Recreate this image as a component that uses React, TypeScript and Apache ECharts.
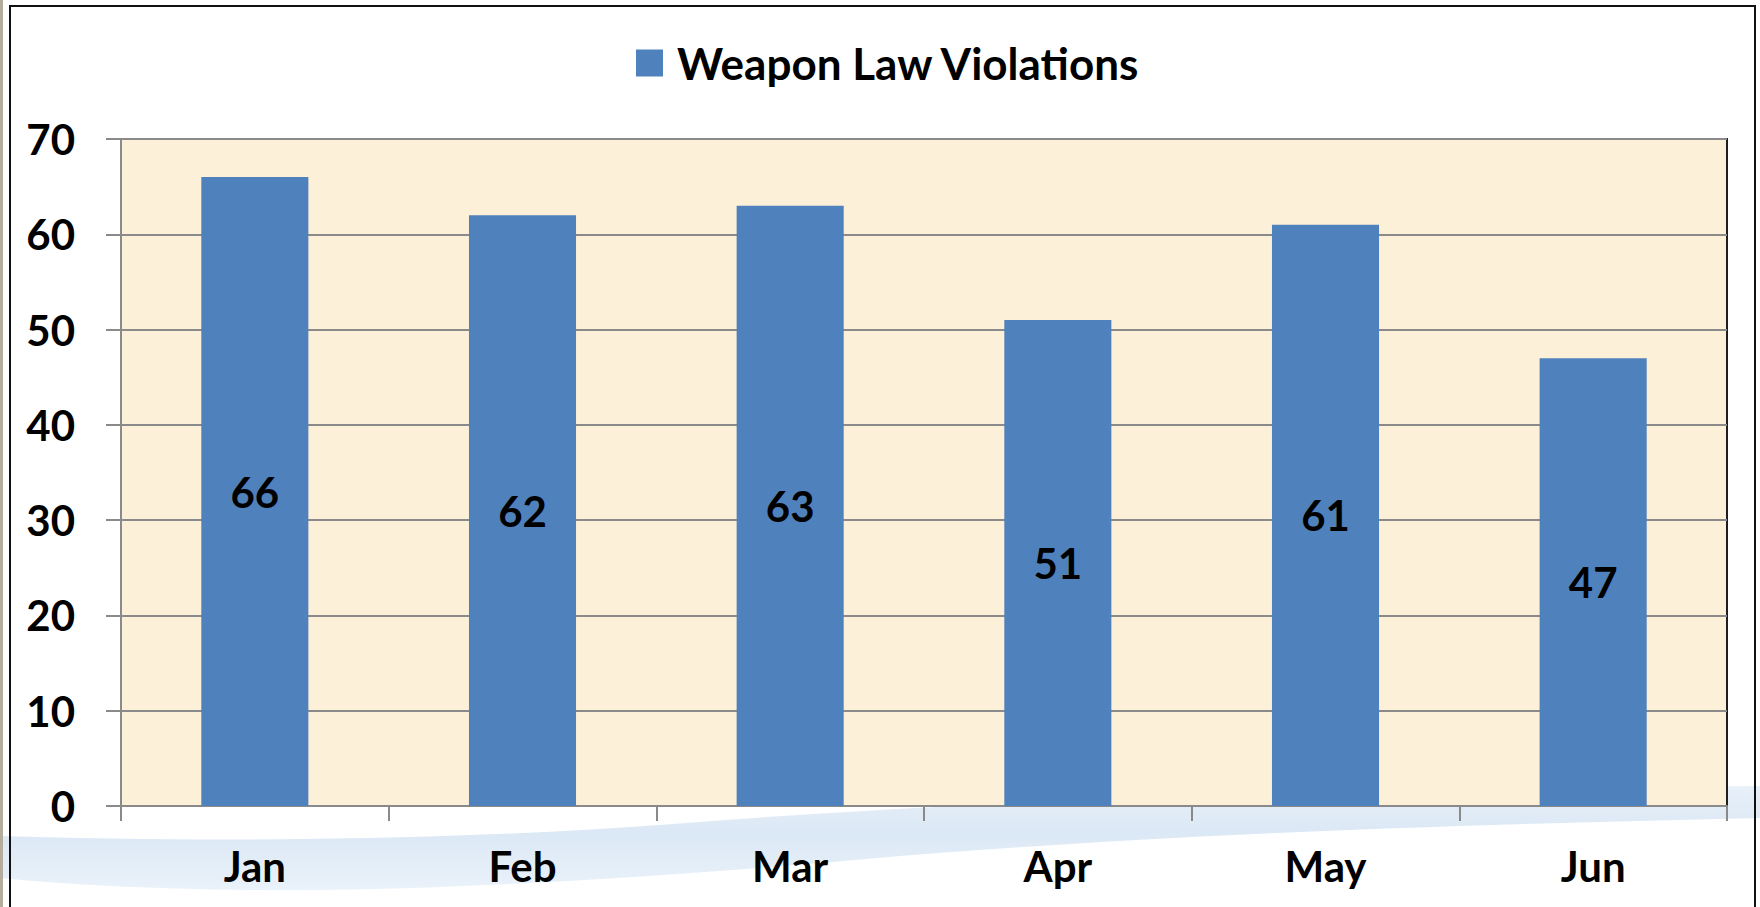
import React, { useEffect, useRef } from "react";
import * as echarts from "echarts";

const categories = ["Jan", "Feb", "Mar", "Apr", "May", "Jun"];
const violations = [66, 62, 63, 51, 61, 47];
const seriesName = "Weapon Law Violations";
const yTicks = { min: 0, max: 70, interval: 10 };

const FONT = "Lato, 'Open Sans', 'Noto Sans', sans-serif";

const swooshPath =
  "M0,836 C200,842 450,842 700,822 C950,802 1300,790 1760,786 L1760,818 C1400,826 1150,836 900,856 C700,874 450,892 250,890 C150,889 60,884 0,878 Z";

echarts.graphic.registerShape("swoosh", echarts.graphic.extendPath(swooshPath, {}) as any);

export default function App() {
  const ref = useRef<HTMLDivElement>(null);
  useEffect(() => {
    if (!ref.current) return;
    const chart = echarts.init(ref.current, undefined, { renderer: "svg" });
    chart.setOption({
      animation: false,
      backgroundColor: "#ffffff",
      graphic: [
        {
          type: "swoosh",
          x: 0,
          y: 0,
          scaleX: 1,
          scaleY: 1,
          z: -5,
          silent: true,
          style: {
            fill: new echarts.graphic.LinearGradient(0, 0, 0, 1, [
              { offset: 0, color: "#e8f0f9" },
              { offset: 0.45, color: "#dbe8f5" },
              { offset: 1, color: "#eaf2fa" },
            ]),
          },
        },
        {
          type: "rect",
          z: -4,
          silent: true,
          shape: { x: 0, y: 0, width: 3, height: 907 },
          style: { fill: "#b4ac9c" },
        },
        {
          type: "rect",
          z: -3,
          silent: true,
          shape: { x: 10, y: 6, width: 1745, height: 920 },
          style: { fill: "none", stroke: "#111111", lineWidth: 2 },
        },
      ],
      legend: {
        show: true,
        left: 631,
        top: 36,
        itemWidth: 27,
        itemHeight: 27,
        icon: "rect",
        textStyle: {
          fontFamily: FONT,
          fontWeight: "bold",
          fontSize: 44,
          color: "#000000",
          padding: [0, 0, 0, 9],
        },
        data: [seriesName],
      },
      grid: {
        left: 121,
        right: 33,
        top: 139,
        bottom: 101,
        show: true,
        backgroundColor: "#fdf0d8",
        borderColor: "#1e1e1e",
        borderWidth: 2,
        containLabel: false,
      },
      xAxis: {
        type: "category",
        data: categories,
        boundaryGap: true,
        axisLine: { show: true, lineStyle: { color: "#8a8a8a", width: 2 } },
        axisTick: {
          show: true,
          alignWithLabel: false,
          length: 15,
          lineStyle: { color: "#8a8a8a", width: 2 },
        },
        axisLabel: {
          margin: 39,
          fontFamily: FONT,
          fontWeight: "bold",
          fontSize: 42,
          color: "#000000",
        },
        splitLine: { show: false },
      },
      yAxis: {
        type: "value",
        min: yTicks.min,
        max: yTicks.max,
        interval: yTicks.interval,
        axisLine: { show: true, lineStyle: { color: "#8a8a8a", width: 2 } },
        axisTick: { show: true, length: 15, lineStyle: { color: "#8a8a8a", width: 2 } },
        axisLabel: {
          margin: 46,
          fontFamily: FONT,
          fontWeight: "bold",
          fontSize: 42,
          color: "#000000",
        },
        splitLine: { show: true, lineStyle: { color: "#8a8a8a", width: 2 } },
      },
      series: [
        {
          name: seriesName,
          type: "bar",
          data: violations,
          barWidth: "40%",
          itemStyle: { color: "#4f81bd" },
          label: {
            show: true,
            position: "inside",
            fontFamily: FONT,
            fontWeight: "bold",
            fontSize: 42,
            color: "#000000",
          },
        },
      ],
    });
    return () => chart.dispose();
  }, []);
  return (
    <div
      ref={ref}
      style={{ position: "absolute", left: 0, top: 0, width: 1760, height: 907 }}
    />
  );
}
